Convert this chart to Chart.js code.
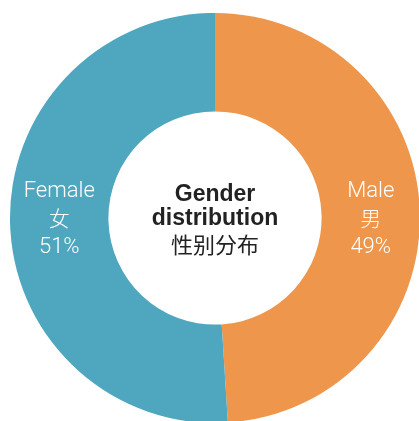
<!DOCTYPE html>
<html lang="en">
<head>
<meta charset="UTF-8">
<title>Gender distribution</title>
<script src="https://cdn.jsdelivr.net/npm/chart.js@4/dist/chart.umd.min.js"></script>
<style>
  html, body { margin: 0; padding: 0; background: #fff; overflow: hidden; }
  #wrap { position: absolute; left: 10px; top: 13px; width: 410px; height: 410px; }
</style>
</head>
<body>
<div id="wrap"><canvas id="chart-donut" width="410" height="410"></canvas></div>
<script>
  // data
  var genders = ['Male', 'Female'];
  var gendersZh = ['男', '女'];
  var shares = [49, 51];
  var colors = ['#EE964B', '#4FA6BF'];
  var titleLines = ['Gender', 'distribution', '性别分布'];

  var labelPlugin = {
    id: 'sliceLabels',
    afterDatasetsDraw: function(chart) {
      var ctx = chart.ctx;
      var meta = chart.getDatasetMeta(0);
      var cx = (chart.chartArea.left + chart.chartArea.right) / 2;
      var cy = (chart.chartArea.top + chart.chartArea.bottom) / 2;
      ctx.save();
      ctx.textAlign = 'center';
      ctx.textBaseline = 'middle';
      ctx.fillStyle = '#fff';
      meta.data.forEach(function(arc, i) {
        var x = arc.tooltipPosition().x;
        ctx.font = '300 22px Roboto, "Noto Sans CJK SC", sans-serif';
        ctx.fillText(genders[i], x, cy - 27);
        ctx.font = '300 21px "Noto Sans CJK SC", sans-serif';
        ctx.fillText(gendersZh[i], x, cy);
        ctx.font = '300 22px Roboto, sans-serif';
        ctx.fillText(shares[i] + '%', x, cy + 29);
      });
      // centre title
      ctx.fillStyle = '#222';
      ctx.font = 'bold 23px "Liberation Sans", Arial, sans-serif';
      ctx.fillText(titleLines[0], cx, cy - 23);
      ctx.fillText(titleLines[1], cx, cy + 1);
      ctx.font = '22px "Noto Sans CJK SC", sans-serif';
      ctx.fillText(titleLines[2], cx, cy + 27);
      ctx.restore();
    }
  };

  new Chart(document.getElementById('chart-donut').getContext('2d'), {
    type: 'doughnut',
    data: {
      labels: genders,
      datasets: [{
        data: shares,
        backgroundColor: colors,
        borderColor: '#fff',
        borderWidth: 0
      }]
    },
    options: {
      responsive: false,
      animation: false,
      cutout: '52%',
      layout: { padding: 0 },
      plugins: {
        legend: { display: false },
        tooltip: { enabled: false }
      }
    },
    plugins: [labelPlugin]
  });
</script>
</body>
</html>
